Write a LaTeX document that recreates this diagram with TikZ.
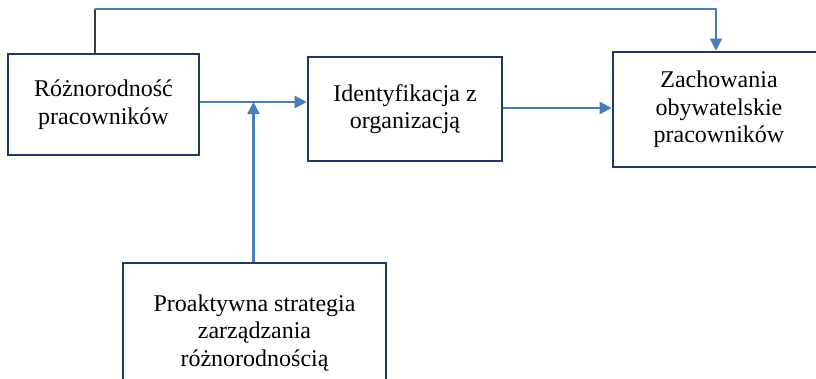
\documentclass[tikz,border=0pt]{standalone}
\usepackage{fontspec}
\setmainfont{Liberation Serif}
\usetikzlibrary{arrows.meta}
\definecolor{boxline}{RGB}{31,56,100}
\definecolor{arrowblue}{RGB}{74,126,187}
\definecolor{darkline}{RGB}{60,60,60}
\tikzset{
  box/.style={draw=boxline, line width=2.6pt, align=center, inner sep=0pt,
    font=\fontsize{24}{27.6}\selectfont},
  conn/.style={draw=arrowblue, line width=2.5pt, -{Triangle[length=12pt,width=12pt]}},
}
\begin{document}
\begin{tikzpicture}[x=1pt,y=-1pt]
\useasboundingbox (0,0) rectangle (816,378);
\clip (0,0) rectangle (816,378);
\node[box, minimum width=191pt, minimum height=101pt] (b1) at (103.5,104.5) {Różnorodność\\pracowników};
\node[box, minimum width=194pt, minimum height=104pt] (b2) at (405,109) {Identyfikacja z\\organizacją};
\node[box, minimum width=212pt, minimum height=115pt] (b3) at (719,109.5) {Zachowania\\obywatelskie\\pracowników};
\node[box, minimum width=263pt, minimum height=140pt] (b4) at (254.5,333) {Proaktywna strategia\\zarządzania\\różnorodnością};
\coordinate (t1) at (95,9);
\coordinate (t2) at (716,9);
\coordinate (j) at (253.5,102);
\draw[darkline, line width=1.6pt] (b1.north -| t1) -- (t1);
\draw[arrowblue, line width=1.8pt, -{Triangle[length=12pt,width=12pt]}] (t1) -- (t2) -- (t2 |- b3.north);
\draw[conn] (b1.east |- j) -- (b2.west |- j);
\draw[conn] (b4.north -| j) -- (j);
\draw[conn] (b2.east |- 0,108) -- (b3.west |- 0,108);
\end{tikzpicture}
\end{document}
